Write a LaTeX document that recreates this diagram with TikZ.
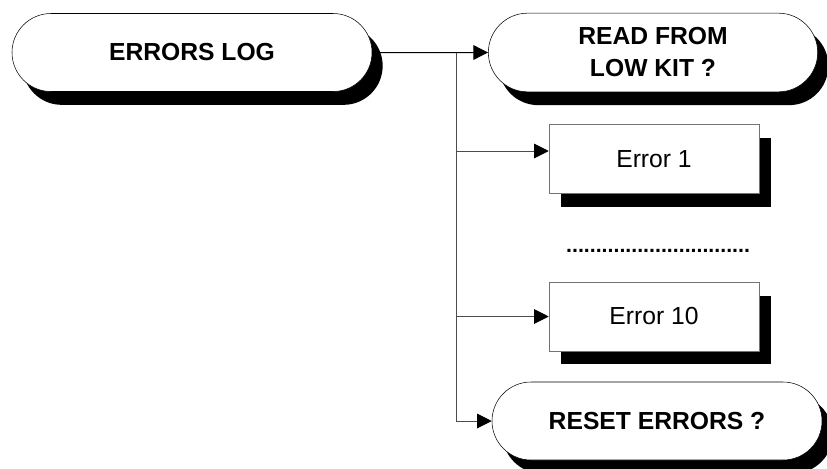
\documentclass[tikz,border=0pt]{standalone}
\usepackage{fontspec}
\setmainfont{Liberation Sans}
\usepackage{tikz}
\usetikzlibrary{shapes.misc, shadows, arrows.meta, positioning}

\begin{document}
\begin{tikzpicture}[
    x=0.75pt, y=-0.75pt,
    pill/.style={draw, rounded rectangle, rounded rectangle arc length=180, fill=white, inner sep=0pt, align=center, font=\fontsize{18.5}{24}\selectfont\bfseries, drop shadow={shadow xshift=8pt, shadow yshift=-10pt, fill=black, opacity=1}},
    errbox/.style={draw=black!55, rectangle, fill=white, minimum width=157.5pt, minimum height=51.5pt, inner sep=0pt, font=\fontsize{18.5}{22}\selectfont, drop shadow={shadow xshift=9pt, shadow yshift=-10pt, fill=black, opacity=1}},
    arrow/.style={-{Triangle[length=11pt, width=11pt, color=black]}, line width=0.75pt, draw=black},
    branch/.style={arrow, draw=black!70}
]
\useasboundingbox (0,0) rectangle (827,468);

% Main entry
\node[pill, minimum width=270pt, minimum height=58.5pt] (log) at (192,52.5) {ERRORS LOG};
\node[pill, minimum width=247pt, minimum height=59pt] (read) at (653,52.5) {READ FROM\\LOW KIT ?};

% Error list
\node[errbox] (err1) at (654,159) {Error 1};
\node[font=\fontsize{16}{18}\selectfont\bfseries] (dots) at (658,251) {...............................};
\node[errbox] (err10) at (654,316.5) {Error 10};
\node[pill, minimum width=247.5pt, minimum height=58.5pt] (reset) at (657,421) {RESET ERRORS ?};

\coordinate (split) at (456,52.5);
\coordinate (err1in) at ([yshift=6pt]err1.west);

\draw[arrow] (log) -- (read);
\draw[branch] (split) |- (reset.west);
\draw[branch] (split |- err1in) -- (err1in);
\draw[branch] (split |- err10.west) -- (err10.west);
\end{tikzpicture}
\end{document}
